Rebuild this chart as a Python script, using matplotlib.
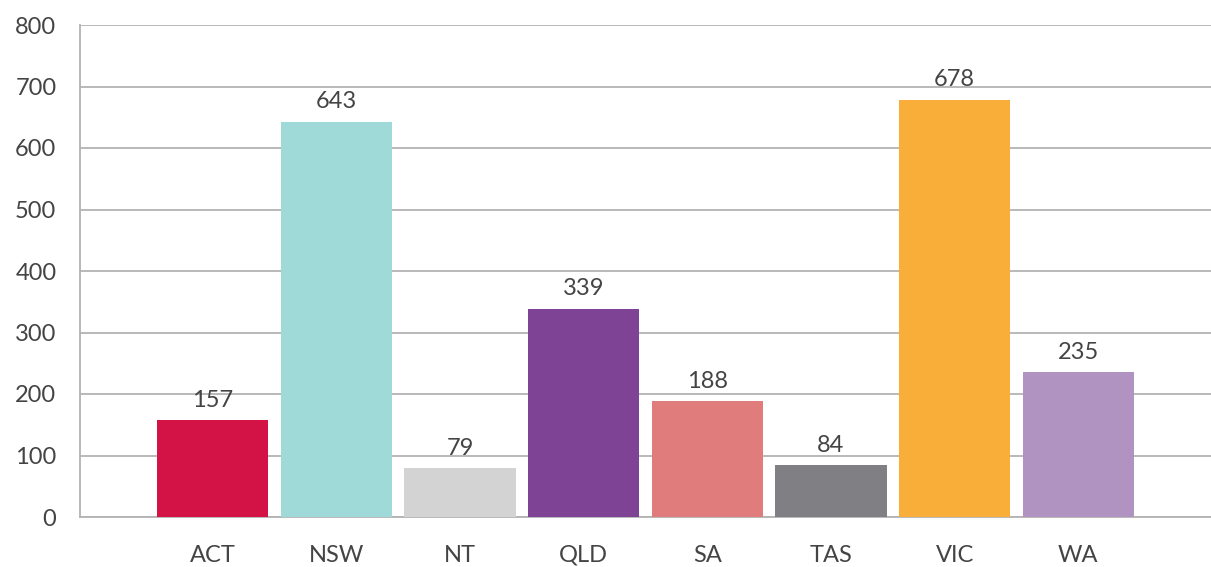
import matplotlib
matplotlib.use("Agg")
import matplotlib.pyplot as plt

states = ["ACT", "NSW", "NT", "QLD", "SA", "TAS", "VIC", "WA"]
counts = [157, 643, 79, 339, 188, 84, 678, 235]
colours = ["#D31245", "#9FD9D8", "#D3D3D4", "#7E4394",
           "#E07C7C", "#808084", "#F9AE3A", "#B193C1"]
yticks = [0, 100, 200, 300, 400, 500, 600, 700, 800]

plt.rcParams['font.family'] = ['Lato', 'DejaVu Sans']
txt = "#444444"
grid = "#b3b3b3"

fig = plt.figure(figsize=(12.11, 5.67), dpi=100)
ax = fig.add_axes([80/1211, 50/567, 1 - 80/1211, (517-25)/567])

x = range(len(states))
bars = ax.bar(x, counts, width=0.9, color=colours, zorder=3)

for xi, v in zip(x, counts):
    ax.text(xi, v + 16, str(v), ha="center", va="bottom",
            fontsize=17, color=txt)

ax.set_xlim(-1.073, 8.073)
ax.set_ylim(0, 800)
ax.set_yticks(yticks)
ax.set_xticks(list(x))
ax.set_xticklabels(states)
ax.yaxis.grid(True, color=grid, linewidth=1.3, zorder=0)
ax.tick_params(axis="both", length=0, labelsize=17, labelcolor=txt)
ax.tick_params(axis="y", pad=17)
ax.tick_params(axis="x", pad=20)

for s in ["top", "right"]:
    ax.spines[s].set_visible(False)
for s in ["left", "bottom"]:
    ax.spines[s].set_color(grid)
    ax.spines[s].set_linewidth(1.3)

fig.savefig("out.png", dpi=100)
